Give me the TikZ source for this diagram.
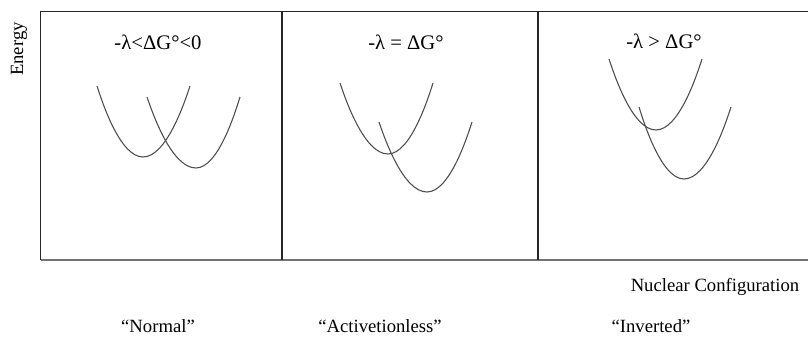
\documentclass[tikz,border=0pt]{standalone}
\usepackage{fontspec}
\setmainfont{Liberation Serif}
\usepackage{tikz}
\usetikzlibrary{positioning}

\begin{document}
\begin{tikzpicture}[x=0.75pt, y=-0.75pt,
    frame/.style={draw=black!85, line width=0.9pt},
    well/.style={draw=black!70, line width=0.8pt},
    ttl/.style={font=\fontsize{15.5}{17}\selectfont, inner sep=0pt},
    lbl/.style={font=\fontsize{14}{16}\selectfont, inner sep=0pt}]

\useasboundingbox (0,0) rectangle (808,340);

% === Frame ===
\coordinate (tl) at (40.5,11.5);
\coordinate (bl) at (40.5,260);
\coordinate (tr) at (808,11.5);
\coordinate (br) at (808,260);
\draw[frame] (tr) -- (tl) -- (bl);
\draw[frame, draw=black!55, line width=1.4pt] (bl) -- (br);
\draw[frame] (282,11.5) -- (282,260);
\draw[frame] (538,11.5) -- (538,260);

% === Panel titles ===
\node[ttl] (normT) at (158,42) {-λ<ΔG°<0};
\node[ttl] (actT)  at (406,42) {-λ = ΔG°};
\node[ttl] (invT)  at (664,41) {-λ > ΔG°};

% === Potential wells ===
% normal
\draw[well] (97,86) parabola bend (143,157) (190,86);
\draw[well] (147,97) parabola bend (196,168) (240,97);
% activationless
\draw[well] (340,83) parabola bend (388,154) (433,83);
\draw[well] (379,122) parabola bend (427,192) (472,122);
% inverted
\draw[well] (609,59) parabola bend (656,130) (702,59);
\draw[well] (639,107) parabola bend (684,179) (731,107);

% === Axis labels ===
\node[lbl, rotate=90] (energy) at (19,49) {Energy};
\node[lbl] (nucl) at (715,287) {Nuclear Configuration};

% === Regime names ===
\node[lbl] (normal) at (158,326) {“Normal”};
\node[lbl] (actless) at (380,326) {“Activetionless”};
\node[lbl] (inverted) at (651,326) {“Inverted”};

\end{tikzpicture}
\end{document}
